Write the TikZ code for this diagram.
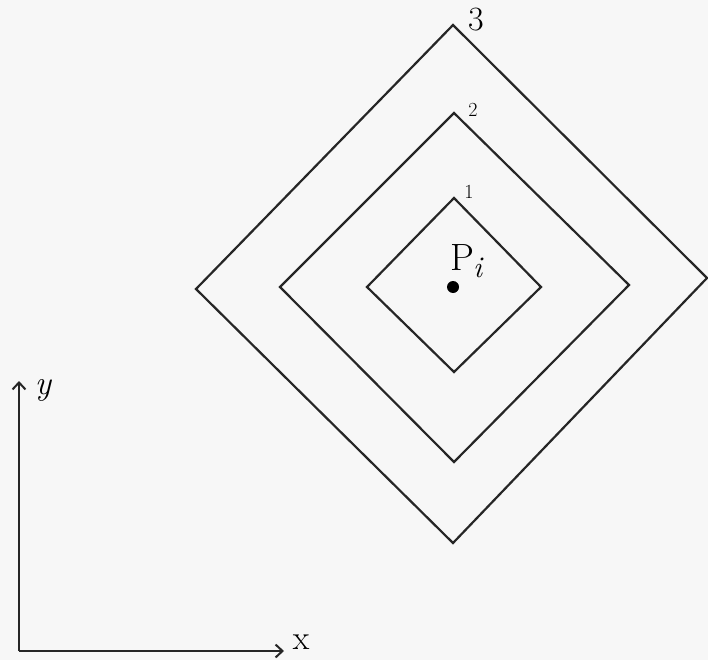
\documentclass[tikz,border=0pt]{standalone}
\usetikzlibrary{arrows.meta}
\begin{document}
\begin{tikzpicture}[x=1pt,y=-1pt,
  line/.style={line width=2.2pt,line join=miter,color=black!85},
  axis/.style={line width=2.4pt,color=black!85,-{Straight Barb[length=7pt,width=13pt,line width=2pt]}},
  lbl/.style={inner sep=0pt}]
\fill[black!3!white] (0,0) rectangle (708,660);
\useasboundingbox (0,0) rectangle (708,660);
% outer diamond
\coordinate (o1) at (453,25);
\coordinate (o2) at (707,278);
\coordinate (o3) at (453,543);
\coordinate (o4) at (196,289);
% middle diamond
\coordinate (m1) at (454,113);
\coordinate (m2) at (629,285);
\coordinate (m3) at (454,462);
\coordinate (m4) at (280,287);
% inner diamond
\coordinate (i1) at (454,198);
\coordinate (i2) at (541,287);
\coordinate (i3) at (454,372);
\coordinate (i4) at (367,287);
\draw[line] (o1) -- (o2) -- (o3) -- (o4) -- cycle;
\draw[line] (m1) -- (m2) -- (m3) -- (m4) -- cycle;
\draw[line] (i1) -- (i2) -- (i3) -- (i4) -- cycle;
\node[lbl,font=\fontsize{34}{36}\selectfont] (l3) at (476,20) {3};
\node[lbl,font=\fontsize{20}{22}\selectfont] (l2) at (473,110) {2};
\node[lbl,font=\fontsize{20}{22}\selectfont] (l1) at (469,192) {1};
\fill[black] (453,287) circle (6pt);
\node[lbl,font=\fontsize{38}{40}\selectfont,anchor=base west] (P) at (450,270) {P\kern-1pt\raisebox{-7pt}{\fontsize{30}{32}\selectfont\itshape i}};
% axes
\coordinate (O) at (19,651);
\coordinate (Y) at (19,381);
\coordinate (X) at (284,651);
\draw[axis] (O) -- (Y);
\draw[axis] (O) -- (X);
\node[lbl,font=\fontsize{34}{36}\selectfont\itshape] (ylab) at (43,390) {y};
\node[lbl,font=\fontsize{34}{36}\selectfont] (xlab) at (301,642) {x};
\end{tikzpicture}
\end{document}
